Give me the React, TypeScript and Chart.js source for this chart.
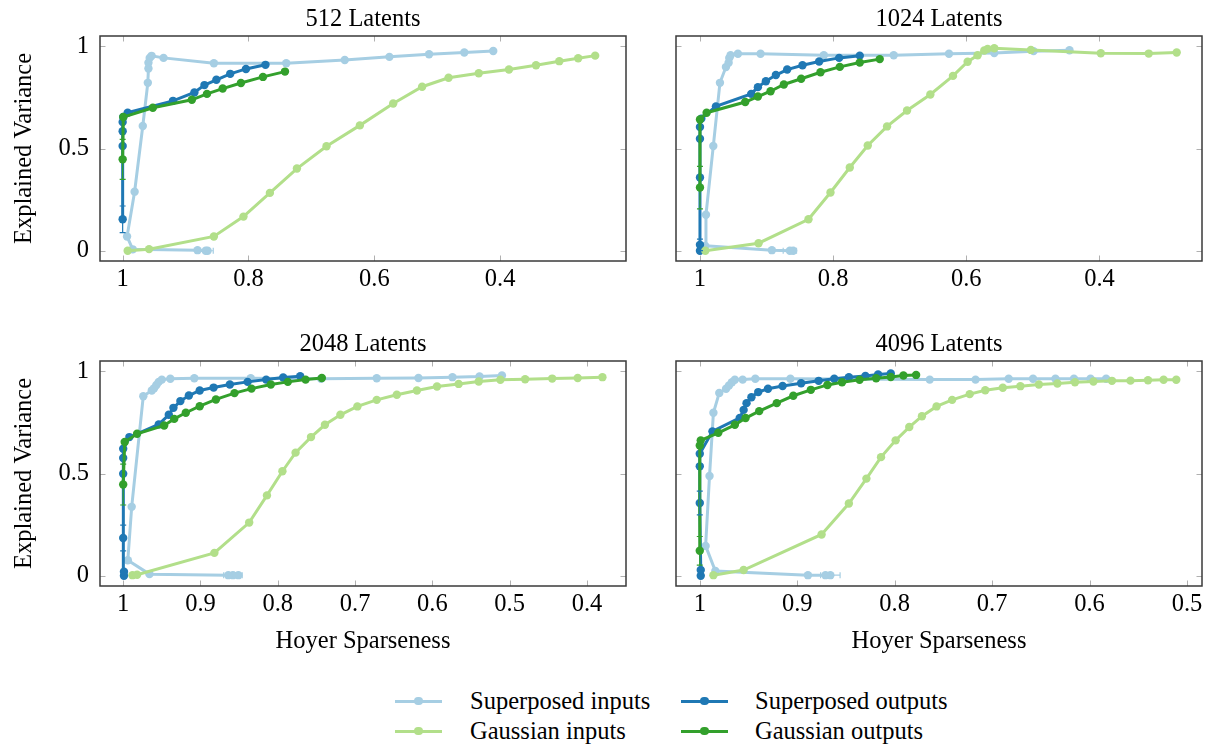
import React, { useEffect, useRef } from 'react';
import { Chart, registerables } from 'chart.js';

Chart.register(...registerables);

const FONT_FAMILY = '"Liberation Serif", "Times New Roman", Times, serif';
const FONT_SIZE = 24.5;

const SERIES_LABELS = ['Superposed inputs', 'Superposed outputs', 'Gaussian inputs', 'Gaussian outputs'];
const SERIES_COLORS = ['#a6cee3', '#1f78b4', '#b2df8a', '#33a02c'];

const PANEL_TITLES = ['512 Latents', '1024 Latents', '2048 Latents', '4096 Latents'];
const X_TICKS_TOP = [1, 0.8, 0.6, 0.4];
const X_TICKS_BL = [1, 0.9, 0.8, 0.7, 0.6, 0.5, 0.4];
const X_TICKS_BR = [1, 0.9, 0.8, 0.7, 0.6, 0.5];
const Y_TICKS = [0, 0.5, 1];
const X_TITLE = 'Hoyer Sparseness';
const Y_TITLE = 'Explained Variance';

// ---------- 512 Latents ----------
const tlSupInX = [0.865, 0.868, 0.881, 0.984, 0.993, 0.981, 0.968, 0.96, 0.959, 0.959, 0.957, 0.954, 0.935, 0.855, 0.74, 0.647, 0.576, 0.513, 0.457, 0.411];
const tlSupInY = [0.0, 0.0, 0.003, 0.007, 0.07, 0.289, 0.61, 0.821, 0.891, 0.919, 0.943, 0.953, 0.943, 0.917, 0.917, 0.933, 0.948, 0.961, 0.969, 0.977];
const tlSupInXErr: [number, number][] = [[1, 0.012]];
const tlSupOutX = [1.0, 1.0, 1.0, 1.0, 0.999, 0.992, 0.92, 0.886, 0.87, 0.851, 0.829, 0.804, 0.773];
const tlSupOutY = [0.154, 0.512, 0.584, 0.629, 0.654, 0.675, 0.733, 0.774, 0.81, 0.836, 0.865, 0.889, 0.909];
const tlSupOutYErr: [number, number][] = [[0, 0.065]];
const tlGauInX = [0.992, 0.958, 0.855, 0.808, 0.766, 0.723, 0.676, 0.623, 0.57, 0.524, 0.482, 0.434, 0.386, 0.343, 0.306, 0.276, 0.249];
const tlGauInY = [0.0, 0.008, 0.07, 0.167, 0.283, 0.402, 0.511, 0.613, 0.72, 0.802, 0.846, 0.868, 0.886, 0.907, 0.927, 0.941, 0.954];
const tlGauOutX = [1.0, 0.999, 0.952, 0.89, 0.866, 0.841, 0.812, 0.777, 0.742];
const tlGauOutY = [0.447, 0.654, 0.699, 0.738, 0.767, 0.793, 0.82, 0.85, 0.876];
const tlGauOutYErr: [number, number][] = [[0, 0.098]];

// ---------- 1024 Latents ----------
const trSupInX = [0.86, 0.865, 0.892, 0.992, 0.991, 0.98, 0.97, 0.961, 0.957, 0.956, 0.954, 0.943, 0.909, 0.814, 0.709, 0.626, 0.558, 0.499, 0.445];
const trSupInY = [0.0, 0.0, 0.003, 0.024, 0.176, 0.512, 0.821, 0.898, 0.919, 0.943, 0.956, 0.963, 0.963, 0.956, 0.956, 0.963, 0.967, 0.976, 0.98];
const trSupInXErr: [number, number][] = [[1, 0.01]];
const trSupOutX = [1.0, 1.0, 1.0, 1.0, 1.0, 0.998, 0.976, 0.923, 0.913, 0.901, 0.886, 0.869, 0.846, 0.821, 0.791, 0.76];
const trSupOutY = [0.0, 0.029, 0.358, 0.548, 0.605, 0.646, 0.706, 0.767, 0.8, 0.829, 0.859, 0.886, 0.907, 0.925, 0.943, 0.954];
const trSupOutYErr: [number, number][] = [[1, 0.028]];
const trGauInX = [0.992, 0.912, 0.837, 0.804, 0.775, 0.748, 0.719, 0.689, 0.654, 0.62, 0.598, 0.583, 0.573, 0.568, 0.558, 0.503, 0.398, 0.326, 0.284];
const trGauInY = [0.0, 0.037, 0.154, 0.285, 0.407, 0.515, 0.608, 0.686, 0.764, 0.855, 0.924, 0.956, 0.979, 0.987, 0.99, 0.982, 0.966, 0.964, 0.969];
const trGauOutX = [1.0, 1.0, 0.99, 0.932, 0.913, 0.894, 0.874, 0.848, 0.819, 0.79, 0.76, 0.73];
const trGauOutY = [0.309, 0.642, 0.675, 0.727, 0.754, 0.78, 0.813, 0.841, 0.873, 0.899, 0.92, 0.937];
const trGauOutYErr: [number, number][] = [[0, 0.104]];

// ---------- 2048 Latents ----------
const blSupInX = [0.851, 0.858, 0.864, 0.966, 0.994, 0.989, 0.974, 0.963, 0.96, 0.957, 0.954, 0.95, 0.939, 0.908, 0.835, 0.744, 0.672, 0.618, 0.574, 0.539, 0.51];
const blSupInY = [0.003, 0.003, 0.003, 0.008, 0.076, 0.337, 0.878, 0.906, 0.917, 0.933, 0.948, 0.959, 0.963, 0.966, 0.966, 0.963, 0.966, 0.967, 0.971, 0.974, 0.979];
const blSupInXErr: [number, number][] = [[1, 0.012]];
const blSupOutX = [0.999, 0.999, 1.0, 1.0, 1.0, 1.0, 0.992, 0.954, 0.941, 0.935, 0.926, 0.915, 0.901, 0.883, 0.862, 0.839, 0.815, 0.793, 0.771];
const blSupOutY = [0.0, 0.02, 0.185, 0.499, 0.576, 0.621, 0.678, 0.74, 0.787, 0.821, 0.854, 0.881, 0.906, 0.92, 0.935, 0.948, 0.959, 0.969, 0.976];
const blSupOutYErr: [number, number][] = [[2, 0.063]];
const blGauInX = [0.988, 0.982, 0.882, 0.837, 0.814, 0.794, 0.777, 0.757, 0.739, 0.719, 0.697, 0.672, 0.646, 0.62, 0.594, 0.566, 0.54, 0.512, 0.48, 0.445, 0.412, 0.38];
const blGauInY = [0.003, 0.005, 0.112, 0.26, 0.393, 0.511, 0.602, 0.678, 0.738, 0.787, 0.828, 0.86, 0.885, 0.906, 0.925, 0.938, 0.95, 0.958, 0.961, 0.964, 0.967, 0.971];
const blGauOutX = [1.0, 0.998, 0.982, 0.947, 0.934, 0.919, 0.901, 0.88, 0.856, 0.834, 0.809, 0.787, 0.764, 0.743];
const blGauOutY = [0.446, 0.654, 0.694, 0.735, 0.767, 0.797, 0.829, 0.862, 0.893, 0.915, 0.935, 0.948, 0.959, 0.967];
const blGauOutYErr: [number, number][] = [[0, 0.1]];

// ---------- 4096 Latents ----------
const brSupInX = [0.866, 0.871, 0.889, 0.984, 0.994, 0.99, 0.986, 0.98, 0.973, 0.97, 0.967, 0.964, 0.956, 0.943, 0.907, 0.764, 0.717, 0.683, 0.658, 0.635, 0.616, 0.599, 0.583];
const brSupInY = [0.003, 0.003, 0.003, 0.023, 0.146, 0.488, 0.797, 0.894, 0.914, 0.93, 0.946, 0.958, 0.959, 0.963, 0.963, 0.959, 0.959, 0.963, 0.963, 0.963, 0.963, 0.963, 0.963];
const brSupInXErr: [number, number][] = [[0, 0.01]];
const brSupOutX = [0.999, 0.999, 1.0, 1.0, 1.0, 0.987, 0.959, 0.955, 0.952, 0.947, 0.94, 0.93, 0.915, 0.896, 0.878, 0.862, 0.847, 0.83, 0.817, 0.804];
const brSupOutY = [0.0, 0.028, 0.356, 0.535, 0.597, 0.706, 0.772, 0.811, 0.844, 0.873, 0.898, 0.914, 0.928, 0.941, 0.953, 0.963, 0.971, 0.977, 0.984, 0.989];
const brSupOutYErr: [number, number][] = [[2, 0.058]];
const brGauInX = [0.986, 0.955, 0.875, 0.847, 0.829, 0.814, 0.799, 0.785, 0.772, 0.757, 0.741, 0.723, 0.707, 0.689, 0.671, 0.652, 0.633, 0.615, 0.596, 0.577, 0.558, 0.54, 0.524, 0.511];
const brGauInY = [0.003, 0.028, 0.202, 0.353, 0.475, 0.58, 0.662, 0.727, 0.78, 0.828, 0.86, 0.888, 0.907, 0.919, 0.927, 0.935, 0.94, 0.946, 0.95, 0.953, 0.954, 0.956, 0.958, 0.958];
const brGauOutX = [1.0, 1.0, 0.999, 0.981, 0.964, 0.953, 0.939, 0.921, 0.904, 0.886, 0.869, 0.854, 0.836, 0.819, 0.804, 0.791, 0.778];
const brGauOutY = [0.122, 0.637, 0.662, 0.699, 0.738, 0.771, 0.805, 0.844, 0.88, 0.909, 0.933, 0.946, 0.958, 0.966, 0.972, 0.979, 0.982];
const brGauOutYErr: [number, number][] = [[0, 0.07]];

type Series = { x: number[]; y: number[]; yErr?: [number, number][]; xErr?: [number, number][] };
type PanelSpec = {
  title: string;
  left: number;
  top: number;
  padL: number;
  padB: number;
  xMin: number;
  xMax: number;
  xTicks: number[];
  yLabels: boolean;
  xTitle: boolean;
  series: Series[];
};

const AREA_W = 526;
const AREA_H = 225;
const PAD_T = 36;
const PAD_R = 6;

const PANELS: PanelSpec[] = [
  {
    title: PANEL_TITLES[0], left: 0, top: 0, padL: 100, padB: 50, xMin: 0.2, xMax: 1.036,
    xTicks: X_TICKS_TOP, yLabels: true, xTitle: false,
    series: [
      { x: tlSupInX, y: tlSupInY, xErr: tlSupInXErr },
      { x: tlSupOutX, y: tlSupOutY, yErr: tlSupOutYErr },
      { x: tlGauInX, y: tlGauInY },
      { x: tlGauOutX, y: tlGauOutY, yErr: tlGauOutYErr },
    ],
  },
  {
    title: PANEL_TITLES[1], left: 636, top: 0, padL: 40, padB: 50, xMin: 0.246, xMax: 1.036,
    xTicks: X_TICKS_TOP, yLabels: false, xTitle: false,
    series: [
      { x: trSupInX, y: trSupInY, xErr: trSupInXErr },
      { x: trSupOutX, y: trSupOutY, yErr: trSupOutYErr },
      { x: trGauInX, y: trGauInY },
      { x: trGauOutX, y: trGauOutY, yErr: trGauOutYErr },
    ],
  },
  {
    title: PANEL_TITLES[2], left: 0, top: 325, padL: 100, padB: 80, xMin: 0.3495, xMax: 1.03,
    xTicks: X_TICKS_BL, yLabels: true, xTitle: true,
    series: [
      { x: blSupInX, y: blSupInY, xErr: blSupInXErr },
      { x: blSupOutX, y: blSupOutY, yErr: blSupOutYErr },
      { x: blGauInX, y: blGauInY },
      { x: blGauOutX, y: blGauOutY, yErr: blGauOutYErr },
    ],
  },
  {
    title: PANEL_TITLES[3], left: 636, top: 325, padL: 40, padB: 80, xMin: 0.4846, xMax: 1.0244,
    xTicks: X_TICKS_BR, yLabels: false, xTitle: true,
    series: [
      { x: brSupInX, y: brSupInY, xErr: brSupInXErr },
      { x: brSupOutX, y: brSupOutY, yErr: brSupOutYErr },
      { x: brGauInX, y: brGauInY },
      { x: brGauOutX, y: brGauOutY, yErr: brGauOutYErr },
    ],
  },
];

const fmtTick = (v: number) => (v === 1 ? '1' : v === 0 ? '0' : v.toFixed(1));

function Panel({ spec }: { spec: PanelSpec }) {
  const ref = useRef<HTMLCanvasElement>(null);
  const w = spec.padL + AREA_W + PAD_R;
  const h = PAD_T + AREA_H + spec.padB;

  useEffect(() => {
    const canvas = ref.current;
    if (!canvas) return;
    const font = { family: FONT_FAMILY, size: FONT_SIZE, lineHeight: 1.2 };

    const decor = {
      id: 'decor',
      beforeDatasetsDraw(chart: any) {
        const { ctx, chartArea: a, scales } = chart;
        const L = 5.5;
        ctx.save();
        ctx.strokeStyle = '#b0b0b0';
        ctx.lineWidth = 1;
        ctx.beginPath();
        for (const v of spec.xTicks) {
          const px = Math.round(scales.x.getPixelForValue(v)) + 0.5;
          ctx.moveTo(px, a.bottom);
          ctx.lineTo(px, a.bottom - L);
          ctx.moveTo(px, a.top);
          ctx.lineTo(px, a.top + L);
        }
        for (const v of Y_TICKS) {
          const py = Math.round(scales.y.getPixelForValue(v)) + 0.5;
          ctx.moveTo(a.left, py);
          ctx.lineTo(a.left + L, py);
          ctx.moveTo(a.right, py);
          ctx.lineTo(a.right - L, py);
        }
        ctx.stroke();
        ctx.restore();
      },
      afterDatasetsDraw(chart: any) {
        const { ctx, scales } = chart;
        ctx.save();
        ctx.lineWidth = 1.2;
        chart.data.datasets.forEach((ds: any) => {
          ctx.strokeStyle = ds.borderColor;
          (ds.yErr || []).forEach(([i, e]: [number, number]) => {
            const p = ds.data[i];
            const px = scales.x.getPixelForValue(p.x);
            const y1 = scales.y.getPixelForValue(p.y - e);
            const y2 = scales.y.getPixelForValue(p.y + e);
            ctx.beginPath();
            ctx.moveTo(px, y1);
            ctx.lineTo(px, y2);
            ctx.moveTo(px - 3, y1);
            ctx.lineTo(px + 3, y1);
            ctx.moveTo(px - 3, y2);
            ctx.lineTo(px + 3, y2);
            ctx.stroke();
          });
          (ds.xErr || []).forEach(([i, e]: [number, number]) => {
            const p = ds.data[i];
            const py = scales.y.getPixelForValue(p.y);
            const x1 = scales.x.getPixelForValue(p.x - e);
            const x2 = scales.x.getPixelForValue(p.x + e);
            ctx.beginPath();
            ctx.moveTo(x1, py);
            ctx.lineTo(x2, py);
            ctx.moveTo(x1, py - 3);
            ctx.lineTo(x1, py + 3);
            ctx.moveTo(x2, py - 3);
            ctx.lineTo(x2, py + 3);
            ctx.stroke();
          });
        });
        ctx.restore();
      },
      afterDraw(chart: any) {
        const { ctx, chartArea: a } = chart;
        ctx.save();
        ctx.strokeStyle = '#3a3a3a';
        ctx.lineWidth = 1.5;
        ctx.strokeRect(a.left, a.top, a.right - a.left, a.bottom - a.top);
        ctx.restore();
      },
    };

    const datasets = spec.series
      .map((s, k) => ({
        label: SERIES_LABELS[k],
        data: s.x.map((xv, i) => ({ x: xv, y: s.y[i] })),
        borderColor: SERIES_COLORS[k],
        backgroundColor: SERIES_COLORS[k],
        pointBackgroundColor: SERIES_COLORS[k],
        pointBorderWidth: 0,
        pointRadius: 4.2,
        borderWidth: 3,
        showLine: true,
        tension: 0,
        fill: false,
        yErr: s.yErr,
        xErr: s.xErr,
      }))
      .reverse();

    const chart = new Chart(canvas, {
      type: 'scatter',
      data: { datasets } as any,
      options: {
        animation: false,
        responsive: false,
        devicePixelRatio: 1,
        layout: { padding: { left: 0, top: 0, right: PAD_R, bottom: 0 } },
        plugins: {
          legend: { display: false },
          tooltip: { enabled: false },
          title: {
            display: true,
            text: spec.title,
            fullSize: false,
            color: '#000',
            font: { ...font, weight: 'normal' },
            padding: { top: 5, bottom: PAD_T - 5 - FONT_SIZE * 1.2 },
          },
        },
        scales: {
          x: {
            type: 'linear',
            position: 'bottom',
            reverse: true,
            min: spec.xMin,
            max: spec.xMax,
            afterBuildTicks: (s: any) => {
              s.ticks = spec.xTicks.map((v) => ({ value: v }));
            },
            afterFit: (s: any) => {
              s.height = spec.padB;
            },
            ticks: {
              autoSkip: false,
              maxRotation: 0,
              padding: 4,
              color: '#000',
              font,
              callback: (v: any) => fmtTick(Number(v)),
            },
            grid: { display: false, drawTicks: false },
            border: { display: false },
            title: {
              display: spec.xTitle,
              text: X_TITLE,
              color: '#000',
              font,
              padding: { top: 0, bottom: 10 },
            },
          },
          y: {
            type: 'linear',
            position: 'left',
            min: -0.05,
            max: 1.05,
            afterBuildTicks: (s: any) => {
              s.ticks = Y_TICKS.map((v) => ({ value: v }));
            },
            afterFit: (s: any) => {
              s.width = spec.padL;
            },
            ticks: {
              display: spec.yLabels,
              padding: 11,
              color: '#000',
              font,
              callback: (v: any) => fmtTick(Number(v)),
            },
            grid: { display: false, drawTicks: false },
            border: { display: false },
            title: {
              display: spec.yLabels,
              text: Y_TITLE,
              color: '#000',
              font,
              padding: { top: 10, bottom: 0 },
            },
          },
        },
      } as any,
      plugins: [decor as any],
    });
    return () => chart.destroy();
  }, [spec]);

  return (
    <canvas
      ref={ref}
      width={w}
      height={h}
      style={{ position: 'absolute', left: spec.left, top: spec.top, width: w, height: h }}
    />
  );
}

const LEGEND_ROW_Y = [701, 731];
const LEGEND_LINE_LEFT = [395, 681];
const LEGEND_TEXT_LEFT = [470, 755];
const LEGEND_ORDER = [
  [0, 1],
  [2, 3],
];

function Legend() {
  const items: React.ReactNode[] = [];
  LEGEND_ORDER.forEach((row, r) => {
    row.forEach((si, c) => {
      const y = LEGEND_ROW_Y[r];
      const lx = LEGEND_LINE_LEFT[c];
      const color = SERIES_COLORS[si];
      items.push(
        <div key={`l${si}`} style={{ position: 'absolute', left: lx, top: y - 1.5, width: 47, height: 3, background: color }} />,
        <div key={`m${si}`} style={{ position: 'absolute', left: lx + 23.5 - 4.2, top: y - 4.2, width: 8.4, height: 8.4, borderRadius: '50%', background: color }} />,
        <div
          key={`t${si}`}
          style={{
            position: 'absolute',
            left: LEGEND_TEXT_LEFT[c],
            top: y - 15,
            height: 30,
            lineHeight: '30px',
            fontFamily: FONT_FAMILY,
            fontSize: FONT_SIZE,
            color: '#000',
            whiteSpace: 'nowrap',
          }}
        >
          {SERIES_LABELS[si]}
        </div>
      );
    });
  });
  return <>{items}</>;
}

export default function App() {
  return (
    <div style={{ position: 'absolute', left: 0, top: 0, width: 1212, height: 755, background: '#fff', overflow: 'hidden' }}>
      {PANELS.map((p, i) => (
        <Panel key={i} spec={p} />
      ))}
      <Legend />
    </div>
  );
}
